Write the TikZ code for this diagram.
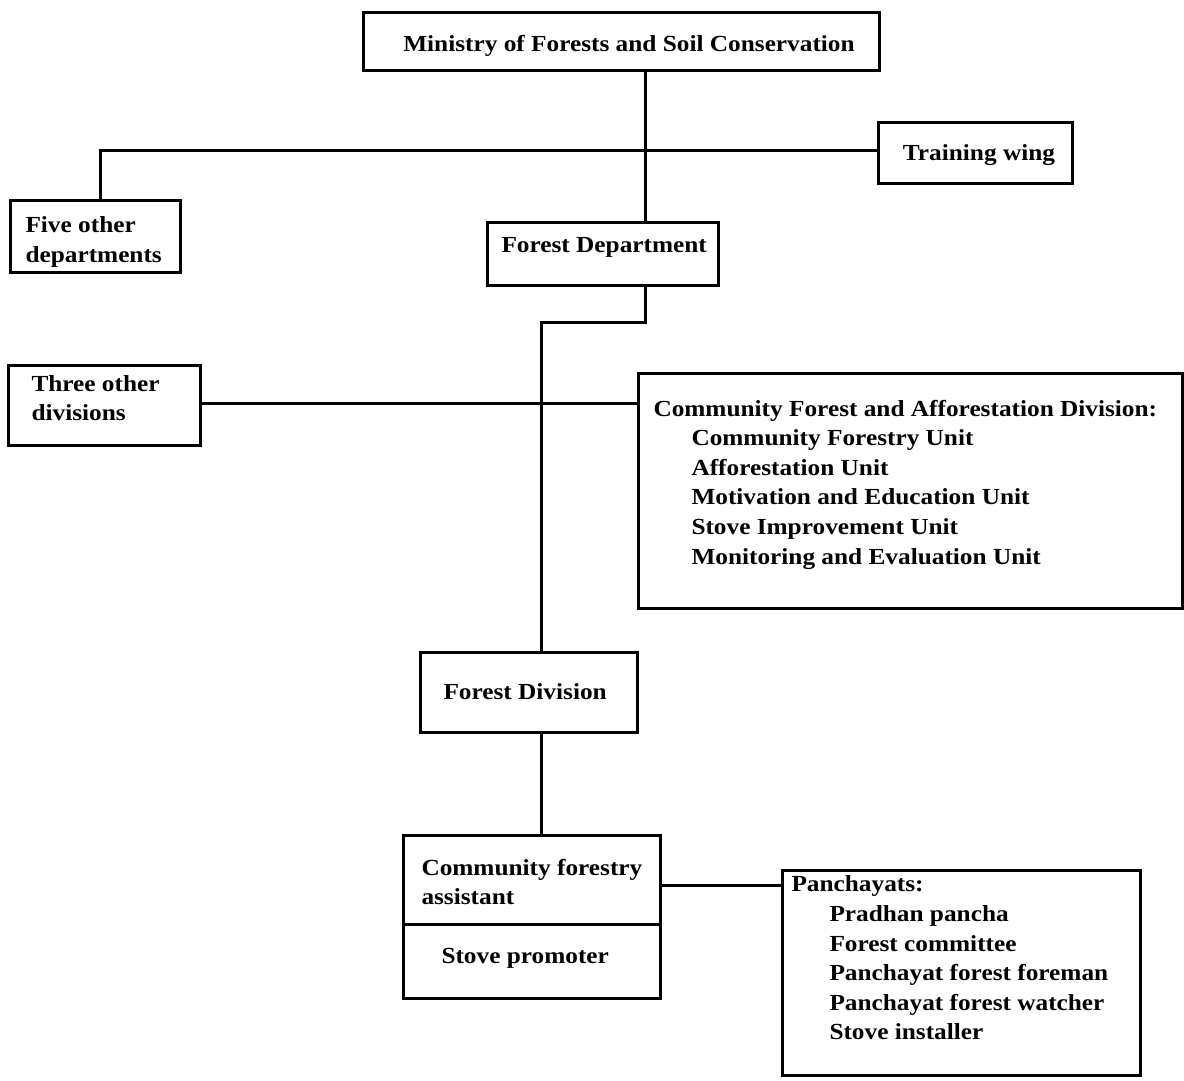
\documentclass[tikz,border=0pt]{standalone}
\usepackage{fontspec}
\setmainfont[FakeStretch=1.1]{Liberation Serif}
\begin{document}
\begin{tikzpicture}[x=1pt,y=-1pt,line width=3pt,
  box/.style={draw,rectangle,inner sep=0pt,line width=3pt},
  txt/.style={font=\fontsize{23}{29.6}\selectfont\bfseries,align=left,inner sep=0pt,anchor=west},
  ctxt/.style={font=\fontsize{23}{29.6}\selectfont\bfseries,align=center,inner sep=0pt}]
\useasboundingbox (0,0) rectangle (1184,1081);
% boxes
\node[box,minimum width=516,minimum height=58] (min) at (621,42) {};
\node[ctxt] (minT) at (629,46) {Ministry of Forests and Soil Conservation};
\node[box,minimum width=194,minimum height=61] (train) at (975,152.5) {};
\node[ctxt] (trainT) at (979,155) {Training wing};
\node[box,minimum width=170,minimum height=72] (five) at (95,236) {};
\node[txt] (fiveT) at (24,242) {Five other\\departments};
\node[box,minimum width=231,minimum height=63] (fd) at (602.5,253.5) {};
\node[txt] (fdT) at (500,247) {Forest Department};
\node[box,minimum width=192,minimum height=80] (three) at (104,405) {};
\node[txt] (threeT) at (30,398) {Three other\\divisions};
\node[box,minimum width=544,minimum height=235] (cf) at (910,490.5) {};
\node[txt] (cfT) at (652,484.5) {Community Forest and Afforestation Division:\\
  \hspace*{38pt}Community Forestry Unit\\
  \hspace*{38pt}Afforestation Unit\\
  \hspace*{38pt}Motivation and Education Unit\\
  \hspace*{38pt}Stove Improvement Unit\\
  \hspace*{38pt}Monitoring and Evaluation Unit};
\node[box,minimum width=217,minimum height=80] (fdiv) at (528.5,692) {};
\node[txt] (fdivT) at (442,692) {Forest Division};
\node[box,minimum width=257,minimum height=89] (cfat) at (531.5,879.5) {};
\node[txt] (cfatT) at (420,882) {Community forestry\\assistant};
\node[box,minimum width=257,minimum height=74] (cfab) at (531.5,961) {};
\node[txt] (cfabT) at (440,958) {Stove promoter};
\node[box,minimum width=358,minimum height=205] (pan) at (961,972.5) {};
\node[txt] (panT) at (790,958) {Panchayats:\\
  \hspace*{38pt}Pradhan pancha\\
  \hspace*{38pt}Forest committee\\
  \hspace*{38pt}Panchayat forest foreman\\
  \hspace*{38pt}Panchayat forest watcher\\
  \hspace*{38pt}Stove installer};
% connectors
\coordinate (s1) at (645,150);
\coordinate (s2) at (541,322);
\coordinate (fl) at (100,150);
\coordinate (hl) at (0,403);
\coordinate (pl) at (0,885);
\draw (min.south -| s1) -- (fd.north -| s1);
\draw (five.north -| fl) -- (fl) -- (train.west |- fl);
\draw (fd.south -| s1) |- (s2) -- (fdiv.north -| s2);
\draw (three.east |- hl) -- (cf.west |- hl);
\draw (fdiv.south -| s2) -- (cfat.north -| s2);
\draw (cfat.east |- pl) -- (pan.west |- pl);
\end{tikzpicture}
\end{document}
